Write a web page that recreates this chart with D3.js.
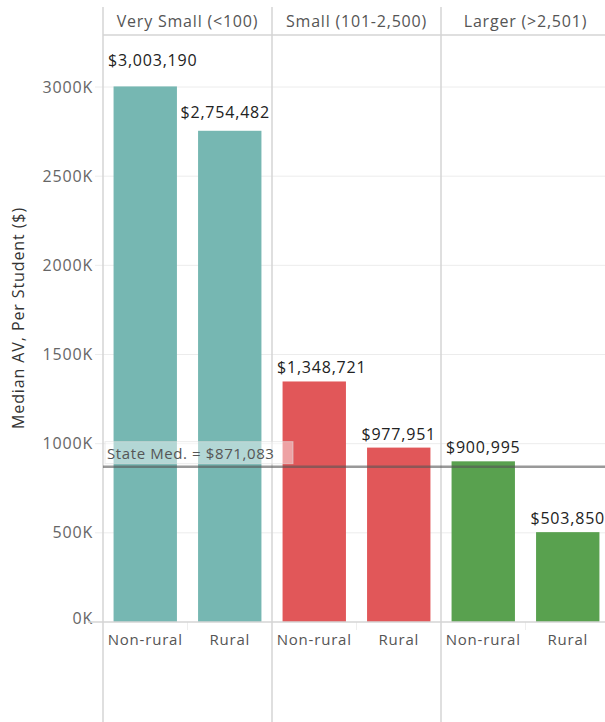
<!DOCTYPE html>
<html>
<head>
<meta charset="utf-8">
<script src="https://cdn.jsdelivr.net/npm/d3@7"></script>
<style>
  body { margin: 0; background: #fff; }
  text { font-family: "Open Sans", "Lato", sans-serif; }
</style>
</head>
<body>
<svg id="chart"></svg>
<script>
// data
var groups = ["Very Small (<100)", "Small (101-2,500)", "Larger (>2,501)"]
var categories = ["Non-rural", "Rural"]
var valuesVerySmall = [3003190, 2754482]
var valuesSmall = [1348721, 977951]
var valuesLarger = [900995, 503850]
var groupColors = ["#76b7b2", "#e15759", "#59a14f"]
var yTicks = [0, 500000, 1000000, 1500000, 2000000, 2500000, 3000000]
var stateMedian = 871083

var seriesByGroup = [valuesVerySmall, valuesSmall, valuesLarger]

var W = 605, H = 722
var svg = d3.select("#chart").attr("width", W).attr("height", H)

var paneLeft = 103, headerTop = 7, headerBottom = 35
var baseY = 622, topY = 87

var yScale = d3.scaleLinear().domain([0, 3000000]).range([baseY, topY])

// panels
var xGroup = d3.scaleBand().domain(groups).range([paneLeft, paneLeft + 169 * 3])
var xCat = d3.scaleBand().domain(categories).range([0, xGroup.bandwidth()]).paddingInner(0.25).paddingOuter(0.125)

// gridlines
svg.append("g").selectAll("line.grid")
  .data(yTicks.filter(d => d > 0))
  .enter().append("line")
  .attr("x1", 95).attr("x2", W)
  .attr("y1", d => yScale(d)).attr("y2", d => yScale(d))
  .attr("stroke", "#ececec")

// tick labels
svg.append("g").selectAll("text.tick")
  .data(yTicks)
  .enter().append("text")
  .attr("x", 93)
  .attr("y", d => d == 0 ? yScale(d) - 4 : yScale(d))
  .attr("dy", "0.35em")
  .attr("text-anchor", "end")
  .style("font-size", "16px")
  .style("letter-spacing", "0.8px")
  .style("fill", "#666")
  .text(d => (d / 1000) + "K")

// axis title
svg.append("text")
  .attr("transform", "translate(24,318) rotate(-90)")
  .attr("text-anchor", "middle")
  .style("font-size", "16px")
  .style("letter-spacing", "0.9px")
  .style("fill", "#333")
  .text("Median AV, Per Student ($)")

// header line
svg.append("line")
  .attr("x1", paneLeft).attr("x2", W)
  .attr("y1", headerBottom).attr("y2", headerBottom)
  .attr("stroke", "#d4d4d4").attr("stroke-width", 1.5)

// header text
svg.append("g").selectAll("text.header")
  .data(groups)
  .enter().append("text")
  .attr("x", d => xGroup(d) + xGroup.bandwidth() / 2)
  .attr("y", 27)
  .attr("text-anchor", "middle")
  .style("font-size", "16px")
  .style("letter-spacing", "0.8px")
  .style("fill", "#555")
  .text(d => d)

// bars
var panels = svg.selectAll("g.panel")
  .data(groups)
  .enter().append("g")
  .attr("class", "panel")
  .attr("transform", d => `translate(${xGroup(d)},0)`)

panels.selectAll("rect.bar")
  .data((d, i) => seriesByGroup[i].map((v, j) => ({ cat: categories[j], value: v, color: groupColors[i] })))
  .enter().append("rect")
  .attr("class", "bar")
  .attr("x", d => xCat(d.cat))
  .attr("width", xCat.bandwidth())
  .attr("y", d => yScale(d.value))
  .attr("height", d => baseY - yScale(d.value))
  .attr("fill", d => d.color)

// value labels, kept inside the pane like tableau does
// extra lift for the crowded first pane
var lift = [[12, 5], [0, 0], [0, 0]]
panels.each(function (g, gi) {
  var bw = xGroup.bandwidth()
  var last = gi == groups.length - 1
  d3.select(this).selectAll("text.val")
    .data(seriesByGroup[gi].map((v, j) => ({ cat: categories[j], value: v, j: j })))
    .enter().append("text")
    .attr("class", "val")
    .attr("x", d => xCat(d.cat) + xCat.bandwidth() / 2)
    .attr("y", d => yScale(d.value) - 8 - lift[gi][d.j])
    .attr("text-anchor", "middle")
    .style("font-size", "16px")
    .style("letter-spacing", "0.8px")
    .style("fill", "#222")
    .text(d => "$" + d3.format(",")(d.value))
    .each(function () {
      if (last) return
      var b = this.getBBox()
      var x = +d3.select(this).attr("x")
      if (b.x < 5) x += 5 - b.x
      if (b.x + b.width > bw - 2) x -= b.x + b.width - (bw - 2)
      d3.select(this).attr("x", x)
    })
})

// category labels
panels.selectAll("text.cat")
  .data(categories)
  .enter().append("text")
  .attr("x", d => xCat(d) + xCat.bandwidth() / 2)
  .attr("y", 645)
  .attr("text-anchor", "middle")
  .style("font-size", "15px")
  .style("letter-spacing", "0.8px")
  .style("fill", "#555")
  .text(d => d)

// small separators between categories
panels.append("line")
  .attr("x1", xGroup.bandwidth() / 2).attr("x2", xGroup.bandwidth() / 2)
  .attr("y1", baseY).attr("y2", baseY + 8)
  .attr("stroke", "#eee")

// x axis line
svg.append("line")
  .attr("x1", 88).attr("x2", W)
  .attr("y1", baseY).attr("y2", baseY)
  .attr("stroke", "#d4d4d4").attr("stroke-width", 1.5)

// panel vertical lines
svg.append("g").selectAll("line.vsep")
  .data(groups)
  .enter().append("line")
  .attr("x1", d => xGroup(d)).attr("x2", d => xGroup(d))
  .attr("y1", headerTop).attr("y2", H)
  .attr("stroke", "#d4d4d4").attr("stroke-width", 1.5)

// reference line
svg.append("line")
  .attr("x1", paneLeft).attr("x2", W)
  .attr("y1", yScale(stateMedian)).attr("y2", yScale(stateMedian))
  .attr("stroke", "#555").attr("stroke-opacity", 0.6).attr("stroke-width", 2.5)

var refLabel = svg.append("g")
refLabel.append("rect")
  .attr("x", 105).attr("y", yScale(stateMedian) - 25)
  .attr("width", 188).attr("height", 22)
  .attr("fill", "#fff").attr("fill-opacity", 0.45)
  .attr("stroke", "#ddd").attr("stroke-opacity", 0.6)
refLabel.append("text")
  .attr("x", 107).attr("y", yScale(stateMedian) - 8)
  .style("font-size", "15px")
  .style("letter-spacing", "0.6px")
  .style("fill", "#555")
  .text("State Med. = $" + d3.format(",")(stateMedian))
</script>
</body>
</html>
